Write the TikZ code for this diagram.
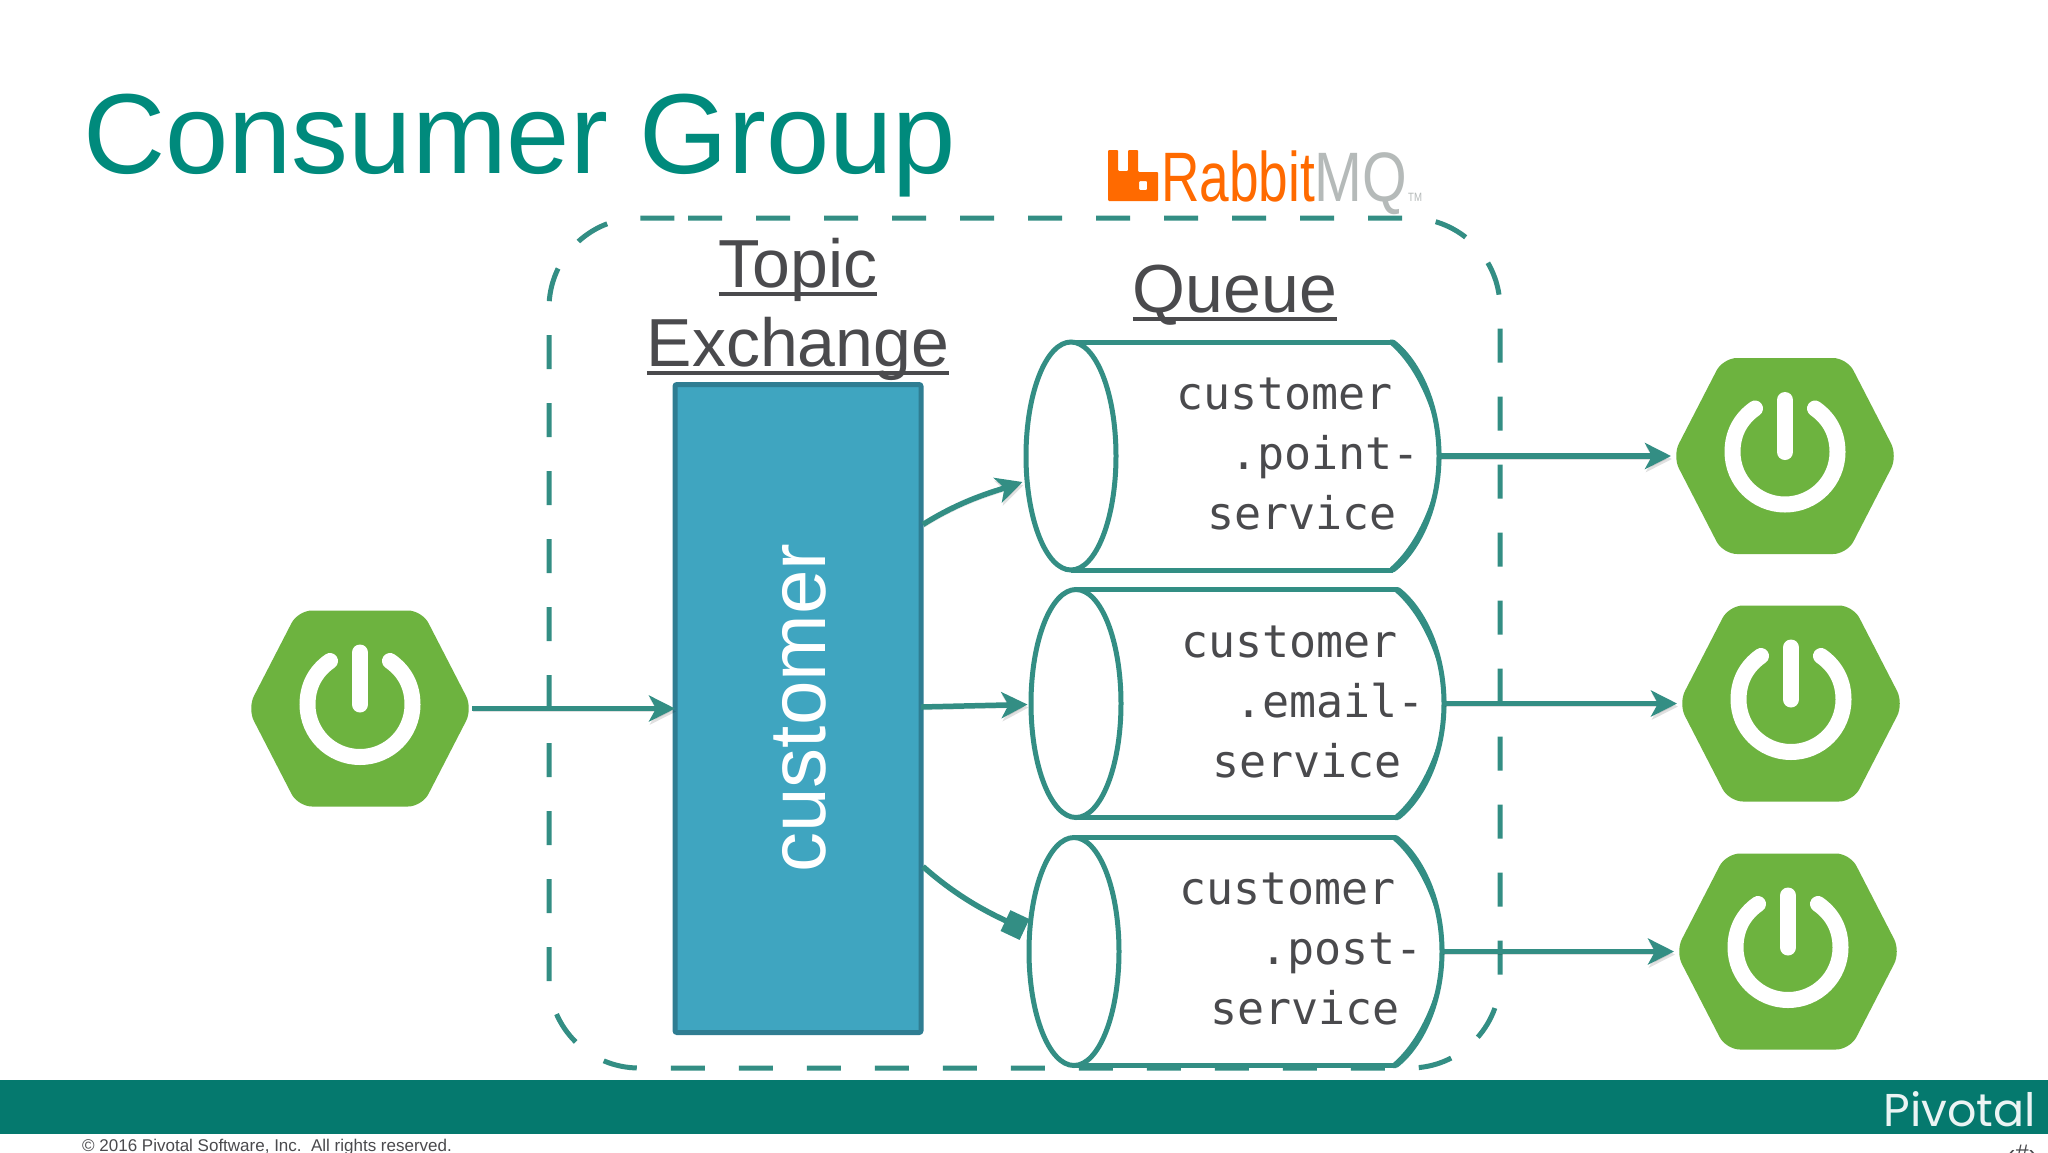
\documentclass[tikz,border=0pt]{standalone}
\usepackage{fontspec}
\usepackage{graphicx}
\setmainfont{Liberation Sans}
\newfontfamily\monofam{DejaVu Sans Mono}
\newfontfamily\pivfam{Poppins}
\usetikzlibrary{arrows.meta,calc}
\definecolor{teal}{HTML}{338E84}
\definecolor{titlecol}{HTML}{008A7C}
\definecolor{barcol}{HTML}{05796E}
\definecolor{inkcol}{HTML}{4A4A4D}
\definecolor{exfill}{HTML}{3FA5C0}
\definecolor{exline}{HTML}{2F7D92}
\definecolor{spring}{HTML}{6DB33F}
\definecolor{rabbit}{HTML}{FF6A00}
\definecolor{mqgrey}{HTML}{B5BAB9}
\newcommand{\fs}[1]{\fontsize{#1}{#1}\selectfont}
\newsavebox{\ulbox}
\newcommand{\ultext}[1]{\sbox{\ulbox}{#1}\rlap{\rule[-9pt]{\wd\ulbox}{4pt}}\usebox{\ulbox}}
\tikzset{
  x=1pt,y=-1pt,
  softshadow/.style={preaction={draw=black,opacity=.12,transform canvas={shift={(1pt,-3pt)}}}},
  flow/.style={draw=teal,line width=5.5pt,softshadow,-{Stealth[length=26pt,width=26pt,inset=7pt]}},
  squareflow/.style={draw=teal,line width=5.5pt,softshadow,-{Square[length=21pt,width=23pt]}},
  groupline/.style={draw=teal,line width=5pt,dash pattern=on 34pt off 34pt},
  exbox/.style={draw=exline,fill=exfill,line width=5pt,rounded corners=2pt,minimum width=246pt,minimum height=648pt,inner sep=0pt,outer sep=0pt},
  cylbox/.style={minimum width=413pt,minimum height=228pt,inner sep=0pt,outer sep=0pt},
  cylline/.style={draw=teal,line width=5pt},
  qlabel/.style={text=inkcol,font=\monofam\fs{45},align=right,anchor=east,inner sep=0pt},
  hexbox/.style={minimum width=218pt,minimum height=196pt,inner sep=0pt,outer sep=0pt},
  head/.style={text=inkcol,font=\fs{68},inner sep=0pt,anchor=base},
}
\newcommand{\powerglyph}[1]{%
  \begin{scope}[shift={(#1.center)}]
    \fill[spring,rounded corners=14pt] (-112.5,0) -- (-62,-98) -- (62,-98) -- (112.5,0) -- (62,98) -- (-62,98) -- cycle;
    \draw[white,line width=16pt,line cap=round] (0,-56) -- (0,-4);
    \draw[white,line width=16pt,line cap=round] (30,-47.5) .. controls (45,-37) and (52.5,-22) .. (52.5,-4) .. controls (52.5,25) and (29,48.5) .. (0,48.5) .. controls (-29,48.5) and (-52.5,25) .. (-52.5,-4) .. controls (-52.5,-22) and (-45,-37) .. (-30,-47.5);
  \end{scope}}
\newcommand{\queue}[3]{%
  \node[cylbox] (#1) at (#2,#3) {};
  \begin{scope}[shift={(#1.center)}]
    \draw[cylline] (-161,-114) -- (161,-114);
    \draw[cylline] (-161,114) -- (161,114);
    \draw[cylline] (161,-114) .. controls (187,-94) and (207,-50) .. (207,0) .. controls (207,50) and (187,94) .. (161,114);
    \fill[teal] (158,-116.5) -- (161,-116.5) .. controls (185,-100) and (206,-55) .. (209.5,0) .. controls (203,-48) and (183,-90) .. (158,-111.5) -- cycle;
    \fill[teal] (158,116.5) -- (161,116.5) .. controls (185,100) and (206,55) .. (209.5,0) .. controls (203,48) and (183,90) .. (158,111.5) -- cycle;
    \draw[cylline,fill=white] (-161,0) ellipse[x radius=45,y radius=114];
  \end{scope}}
\begin{document}
\begin{tikzpicture}
\useasboundingbox (0,0) rectangle (2048,1152);
\fill[white] (0,0) rectangle (2048,1152);
\node[anchor=base west,inner sep=0pt,text=titlecol,font=\fs{113.8}] (title) at (83,173) {Consumer Group};
% RabbitMQ logo
\fill[rabbit,rounded corners=1pt,even odd rule] (1108,201) -- (1108,150) -- (1118,150) -- (1118,171) -- (1128,171) -- (1128,150) -- (1138,150) -- (1138,172) -- (1158,172) -- (1158,201) -- cycle (1139,181) rectangle (1147,190);
\node[anchor=base west,inner sep=0pt,text=rabbit,font=\fs{70}] (rabbitname) at (1161,201) {\scalebox{0.76}[1]{Rabbit}};
\node[anchor=base west,inner sep=0pt,text=mqgrey,font=\fs{70}] (mqname) at (1314,201) {\scalebox{0.82}[1]{MQ}};
\node[anchor=base west,inner sep=0pt,text=mqgrey,font=\fs{12}] (tm) at (1408,201) {\scalebox{0.8}[1]{TM}};
% group outline
\draw[groupline] (688,218) -- (1410,218) arc[start angle=-90,end angle=0,radius=90] -- (1500,978) arc[start angle=0,end angle=90,radius=90] -- (639,1068) arc[start angle=90,end angle=180,radius=90] -- (549,308) arc[start angle=180,end angle=270,radius=90] -- (688,218);
% headers
\node[head] (topic) at (798,287) {\ultext{Topic}};
\node[head] (exchange) at (798,366) {\ultext{Exchange}};
\node[head] (queuehead) at (1235,312) {\ultext{Queue}};
% exchange
\node[exbox] (ex) at (798,708.5) {};
\node[rotate=90,text=white,font=\fs{80},inner sep=0pt] (exlabel) at (800,708) {customer};
% queues
\queue{q1}{1232}{456}
\queue{q2}{1237}{703.5}
\queue{q3}{1235}{951.5}
\node[qlabel] (q1t) at (1420,454) {customer\kern27pt\\[15pt].point-\\[15pt]service\kern23pt};
\node[qlabel] (q2t) at (1425,702) {customer\kern27pt\\[15pt].email-\\[15pt]service\kern23pt};
\node[qlabel] (q3t) at (1423,949) {customer\kern27pt\\[15pt].post-\\[15pt]service\kern23pt};
% icons
\node[hexbox] (p0) at (360,708.5) {};
\node[hexbox] (c1) at (1785,456) {};
\node[hexbox] (c2) at (1791,703.5) {};
\node[hexbox] (c3) at (1788,951.5) {};
\foreach \n in {p0,c1,c2,c3}{\powerglyph{\n}}
% connectors
\coordinate (e1) at ($(ex.east)+(2,-184)$);
\coordinate (e2) at ($(ex.east)+(0,-1.5)$);
\coordinate (e3) at ($(ex.east)+(2,158)$);
\coordinate (t1) at ($(q1.west)+(-3,26)$);
\coordinate (t2) at ($(q2.west)+(-3,1)$);
\coordinate (t3) at ($(q3.west)+(-4,-22)$);
\draw[flow,shorten <=3pt] (p0.east) -- (ex.west);
\draw[flow] (e1) .. controls +(38,-24) and +(-30,10) .. (t1);
\draw[flow] (e2) -- (t2);
\draw[squareflow] (e3) .. controls +(36,32) and +(-34,-16) .. (t3);
\draw[flow,shorten >=5pt] (q1.east) -- (c1.west);
\draw[flow,shorten >=5pt] (q2.east) -- (c2.west);
\draw[flow,shorten >=5pt] (q3.east) -- (c3.west);
% footer
\fill[barcol] (0,1080) rectangle (2048,1134);
\node[anchor=base east,inner sep=0pt,text=white!92!barcol,font=\pivfam\fs{46}] (piv) at (2036,1126) {Pivotal};
\node[anchor=base west,inner sep=0pt,text=inkcol,font=\fs{17}] (copy) at (82,1151) {© 2016 Pivotal Software, Inc.\ \ All rights reserved.};
\node[anchor=base,inner sep=0pt,text=inkcol,font=\fs{24}] (pagenum) at (2022,1161) {‹\#›};
\end{tikzpicture}
\end{document}
